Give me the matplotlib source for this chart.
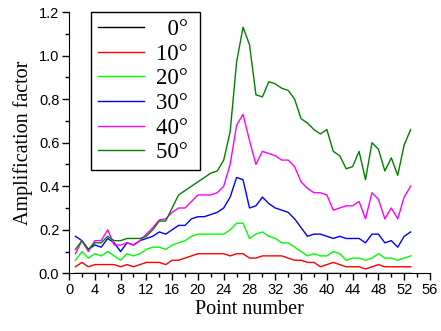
import matplotlib
matplotlib.use('Agg')
import matplotlib.pyplot as plt
from matplotlib.ticker import MultipleLocator

points = list(range(1, 54))

amp_0 = [0.0] * 53
amp_10 = [0.03, 0.05, 0.03, 0.04, 0.04, 0.04, 0.04, 0.03, 0.04, 0.03,
          0.04, 0.05, 0.05, 0.05, 0.04, 0.06, 0.06, 0.07, 0.08, 0.09,
          0.09, 0.09, 0.09, 0.09, 0.08, 0.09, 0.09, 0.07, 0.07, 0.08,
          0.08, 0.08, 0.08, 0.07, 0.06, 0.06, 0.05, 0.05, 0.03, 0.04,
          0.05, 0.04, 0.03, 0.03, 0.03, 0.02, 0.03, 0.04, 0.03, 0.03,
          0.03, 0.03, 0.03]
amp_20 = [0.06, 0.10, 0.07, 0.09, 0.08, 0.10, 0.08, 0.06, 0.09, 0.08,
          0.09, 0.11, 0.12, 0.12, 0.11, 0.13, 0.14, 0.15, 0.17, 0.18,
          0.18, 0.18, 0.18, 0.18, 0.20, 0.23, 0.23, 0.16, 0.18, 0.19,
          0.17, 0.16, 0.14, 0.14, 0.12, 0.10, 0.08, 0.09, 0.08, 0.08,
          0.10, 0.09, 0.06, 0.07, 0.07, 0.06, 0.07, 0.09, 0.07, 0.07,
          0.06, 0.07, 0.08]
amp_30 = [0.17, 0.15, 0.11, 0.13, 0.12, 0.16, 0.14, 0.10, 0.14, 0.13,
          0.15, 0.16, 0.17, 0.19, 0.18, 0.20, 0.22, 0.22, 0.25, 0.26,
          0.26, 0.27, 0.28, 0.30, 0.35, 0.44, 0.43, 0.30, 0.31, 0.35,
          0.32, 0.30, 0.29, 0.28, 0.25, 0.21, 0.17, 0.18, 0.18, 0.17,
          0.16, 0.17, 0.16, 0.16, 0.16, 0.14, 0.18, 0.18, 0.14, 0.15,
          0.12, 0.17, 0.19]
amp_40 = [0.09, 0.15, 0.10, 0.15, 0.15, 0.20, 0.13, 0.13, 0.14, 0.13,
          0.15, 0.18, 0.21, 0.245, 0.25, 0.28, 0.30, 0.30, 0.33, 0.36,
          0.36, 0.36, 0.37, 0.40, 0.50, 0.68, 0.73, 0.61, 0.50, 0.56,
          0.55, 0.54, 0.52, 0.52, 0.49, 0.42, 0.39, 0.37, 0.37, 0.36,
          0.29, 0.30, 0.31, 0.31, 0.33, 0.25, 0.37, 0.34, 0.25, 0.30,
          0.25, 0.35, 0.40]
amp_50 = [0.11, 0.15, 0.11, 0.14, 0.14, 0.17, 0.15, 0.15, 0.16, 0.16,
          0.16, 0.17, 0.20, 0.24, 0.24, 0.30, 0.36, 0.38, 0.40, 0.42,
          0.44, 0.46, 0.47, 0.52, 0.65, 0.97, 1.13, 1.05, 0.82, 0.81,
          0.88, 0.87, 0.85, 0.84, 0.80, 0.71, 0.69, 0.66, 0.64, 0.66,
          0.56, 0.54, 0.48, 0.49, 0.56, 0.43, 0.60, 0.57, 0.47, 0.53,
          0.45, 0.59, 0.66]

series = [amp_0, amp_10, amp_20, amp_30, amp_40, amp_50]
labels = ['\u20070\u00b0 ', '10\u00b0 ', '20\u00b0 ', '30\u00b0 ', '40\u00b0 ', '50\u00b0 ']
colors = ['#000000', '#ff0000', '#00ff00', '#0000ff', '#ff00ff', '#008000']

sans = ['Liberation Sans', 'DejaVu Sans']
serif = ['Liberation Serif', 'DejaVu Serif']

fig = plt.figure(figsize=(4.41, 3.31), dpi=100)
ax = fig.add_axes([0.1565, 0.1743, 0.975 - 0.1565, 0.9637 - 0.1743])

for vals, lab, col in zip(series, labels, colors):
    ax.plot(points, vals, color=col, lw=1.0, label=lab)

ax.set_xlim(0, 56)
ax.set_ylim(0, 1.2)
ax.xaxis.set_major_locator(MultipleLocator(4))
ax.xaxis.set_minor_locator(MultipleLocator(2))
ax.yaxis.set_major_locator(MultipleLocator(0.2))
ax.yaxis.set_minor_locator(MultipleLocator(0.1))
ax.yaxis.set_major_formatter(matplotlib.ticker.FormatStrFormatter('%.1f'))
ax.spines['top'].set_visible(False)
ax.spines['right'].set_visible(False)
ax.tick_params(which='major', direction='out', length=5, width=1, labelsize=10.5, pad=2)
ax.tick_params(which='minor', direction='out', length=3, width=1)
for t in ax.get_xticklabels() + ax.get_yticklabels():
    t.set_family(sans)

ax.set_xlabel('Point number', family=serif, fontsize=14.5, labelpad=2)
ax.set_ylabel('Amplification factor', family=serif, fontsize=14.5, labelpad=4)

leg = ax.legend(loc='upper left', bbox_to_anchor=(0.062, 1.0), frameon=True,
                fancybox=False, edgecolor='black', framealpha=1,
                prop={'family': serif, 'size': 16.5}, handlelength=2.0,
                handletextpad=0.5, labelspacing=0.16, borderpad=0.3,
                borderaxespad=0)
leg.get_frame().set_linewidth(1.0)

fig.savefig('out.png', dpi=100)
